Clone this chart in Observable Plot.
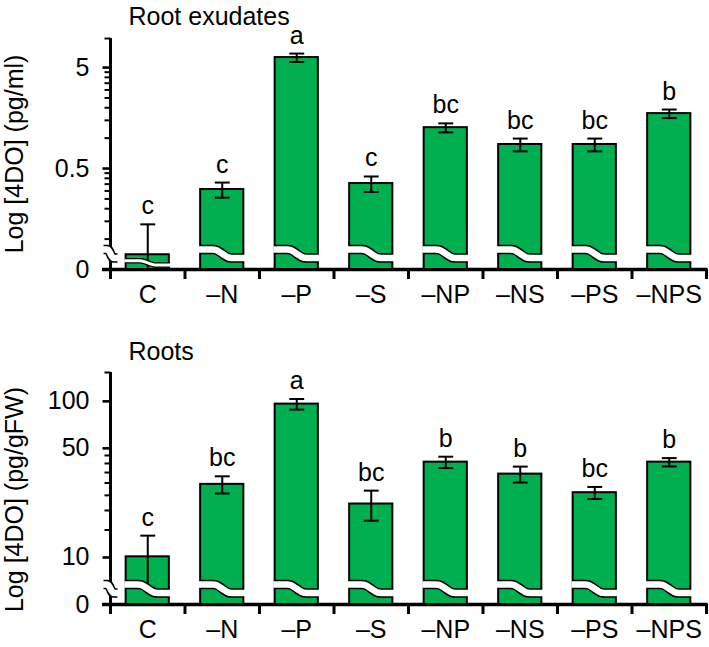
<!DOCTYPE html>
<html><head><meta charset="utf-8">
<script src="https://cdn.jsdelivr.net/npm/d3@7"></script>
<script src="https://cdn.jsdelivr.net/npm/@observablehq/plot@0.6"></script>
<style>
body{margin:0;background:#fff}
#chart{width:709px}
#chart svg{display:block}
</style>
</head><body><div id="chart"></div>
<script>
// ---- data ----
const categories = ["C", "–N", "–P", "–S", "–NP", "–NS", "–PS", "–NPS"];

const exudateMeans   = [0.070, 0.31, 6.28, 0.355, 1.27, 0.865, 0.865, 1.75];
const exudateErrors  = [0.070, 0.053, 0.60, 0.062, 0.13, 0.125, 0.125, 0.17];
const exudateLetters = ["c", "c", "a", "c", "bc", "bc", "bc", "b"];
const exudateMajorTicks  = [0.05, 0.5, 5];
const exudateMajorLabels = ["0", "0.5", "5"];
const exudateMinorTicks  = [0.1, 0.15, 0.2, 0.25, 0.3, 0.35, 0.4, 0.45, 1, 1.5, 2, 2.5, 3, 3.5, 4, 4.5, 9.7];

const rootMeans   = [10.1, 29.4, 96, 22.0, 40.8, 34.2, 26.0, 40.8];
const rootErrors  = [3.7, 3.7, 7.5, 4.8, 3.4, 4.0, 2.3, 2.5];
const rootLetters = ["c", "bc", "a", "bc", "b", "b", "bc", "b"];
const rootMajorTicks  = [5, 10, 50, 100];
const rootMajorLabels = ["0", "10", "50", "100"];
const rootMinorTicks  = [15, 20, 25, 30, 35, 40, 45, 153];

const GREEN = "#00b050";
const FONT = "'Liberation Sans', Arial, sans-serif";

function panel(cfg) {
  const W = 709, ML = 110, MR = 3;
  const innerW = W - ML - MR;
  const innerH = cfg.height - cfg.mt - cfg.mb;
  const ppd = innerH / Math.log10(cfg.top / cfg.base);
  const at = px => cfg.base * Math.pow(10, px / ppd);   // value located px above the base line
  const u = px => px * 8 / innerW;                       // px -> x data units
  const hw = 0.29;

  const rows = categories.map((c, i) => ({
    c, i, cx: i + 0.5, v: cfg.means[i], e: cfg.errors[i], l: cfg.letters[i],
    lo: Math.max(cfg.means[i] - cfg.errors[i], cfg.base),
    hi: cfg.means[i] + cfg.errors[i]
  }));

  // wavy break decoration, built per bar from the bar's own scale height
  const smooth = t => { const s = Math.min(1, Math.max(0, (t - 0.3) / 0.4)); return (1 - Math.cos(Math.PI * s)) / 2; };
  const waveBig = [], waveBigW = [], waveSmall = [], waveSmallW = [];
  function addWave(id, xa, xb, L, R, blk, wht) {
    const ext = u(1.8);
    for (let k = 0; k <= 24; k++) {
      const t = k / 24, y = at(L - (L - R) * smooth(t));
      blk.push({id, x: xa + (xb - xa) * t, y});
      wht.push({id, x: (xa - ext) + ((xb + ext) - (xa - ext)) * t, y});
    }
  }
  rows.forEach(r => {
    const h = Math.log10(r.v / cfg.base) * ppd;
    if (h < 30) addWave(r.i, r.cx - hw, r.cx + hw, h * 0.6, h * 0.3, waveSmall, waveSmallW);
    else addWave(r.i, r.cx - hw, r.cx + hw, 20, 11.5, waveBig, waveBigW);
  });
  // y-axis break
  addWave("axis", -u(7), u(7), 20, 11.5, waveBig, waveBigW);

  const lowCaps = rows.filter(r => r.v - r.e > cfg.base);

  const marks = [
    // y axis line & x axis line
    Plot.ruleX([0], {y1: at(-10), y2: cfg.top, strokeWidth: 3, stroke: "black"}),
    Plot.ruleY([cfg.base], {x1: -u(8), x2: 8 + u(1.5), strokeWidth: 3.5, stroke: "black"}),
    // x ticks at category boundaries
    Plot.ruleX(d3.range(1, 9), {y1: at(-10), y2: cfg.base, strokeWidth: 3, stroke: "black"}),
    // y ticks
    Plot.link(cfg.major, {x1: -u(8), x2: 0, y1: d => d, y2: d => d, strokeWidth: 2.6, stroke: "black"}),
    Plot.link(cfg.minor, {x1: -u(6), x2: 0, y1: d => d, y2: d => d, strokeWidth: 2, stroke: "black"}),
    Plot.text(cfg.major, {x: 0, y: d => d, text: (d, i) => cfg.majorLabels[i], textAnchor: "end", dx: -21, lineAnchor: "middle", fontSize: 25, fill: "black"}),
    // bars
    Plot.rectY(rows, {x1: d => d.cx - hw, x2: d => d.cx + hw, y1: cfg.base, y2: "v", fill: GREEN, stroke: "black", strokeWidth: 2}),
    // error bars
    Plot.ruleX(rows, {x: "cx", y1: "lo", y2: "hi", strokeWidth: 2, stroke: "black"}),
    Plot.link(rows, {x1: d => d.cx - 0.1, x2: d => d.cx + 0.1, y1: "hi", y2: "hi", strokeWidth: 2, stroke: "black"}),
    Plot.link(lowCaps, {x1: d => d.cx - 0.1, x2: d => d.cx + 0.1, y1: "lo", y2: "lo", strokeWidth: 2, stroke: "black"}),
    // breaks
    Plot.line(waveBig, {x: "x", y: "y", z: "id", stroke: "black", strokeWidth: 9.5, strokeLinecap: "butt", strokeLinejoin: "round"}),
    Plot.line(waveBigW, {x: "x", y: "y", z: "id", stroke: "white", strokeWidth: 6.5, strokeLinecap: "butt", strokeLinejoin: "round"}),
    Plot.line(waveSmall, {x: "x", y: "y", z: "id", stroke: "black", strokeWidth: 5.5, strokeLinecap: "butt", strokeLinejoin: "round"}),
    Plot.line(waveSmallW, {x: "x", y: "y", z: "id", stroke: "white", strokeWidth: 3, strokeLinecap: "butt", strokeLinejoin: "round"}),
    // significance letters
    Plot.text(rows, {x: "cx", y: "hi", text: "l", dy: -10, lineAnchor: "bottom", fontSize: 25, fill: "black"}),
    // category labels
    Plot.text(rows, {x: "cx", y: cfg.base, text: "c", dy: 25, lineAnchor: "middle", fontSize: 25, fill: "black"}),
    // titles
    Plot.text([cfg.title], {frameAnchor: "top-left", text: d => d, textAnchor: "start", lineAnchor: "middle", dx: 18, dy: cfg.titleDy, fontSize: 25, fill: "black"}),
    Plot.text([cfg.yLabel], {frameAnchor: "left", text: d => d, rotate: -90, textAnchor: "middle", lineAnchor: "middle", dx: -96, dy: cfg.labelDy, fontSize: 25, fill: "black"})
  ];

  return Plot.plot({
    width: W, height: cfg.height,
    marginLeft: ML, marginRight: MR, marginTop: cfg.mt, marginBottom: cfg.mb,
    x: {domain: [0, 8], axis: null},
    y: {type: "log", domain: [cfg.base, cfg.top], axis: null},
    style: {fontFamily: FONT, fontSize: "25px", background: "white", color: "black", overflow: "visible"},
    marks
  });
}

const chart = document.getElementById("chart");
chart.append(panel({
  title: "Root exudates", yLabel: "Log [4DO] (pg/ml)",
  means: exudateMeans, errors: exudateErrors, letters: exudateLetters,
  base: 0.05, top: 9.7, major: exudateMajorTicks, majorLabels: exudateMajorLabels, minor: exudateMinorTicks,
  height: 320, mt: 38, mb: 51, titleDy: -22, labelDy: 0
}));
chart.append(panel({
  title: "Roots", yLabel: "Log [4DO] (pg/gFW)",
  means: rootMeans, errors: rootErrors, letters: rootLetters,
  base: 5, top: 153, major: rootMajorTicks, majorLabels: rootMajorLabels, minor: rootMinorTicks,
  height: 327, mt: 52, mb: 43, titleDy: -21, labelDy: 11
}));
</script>
</body></html>
